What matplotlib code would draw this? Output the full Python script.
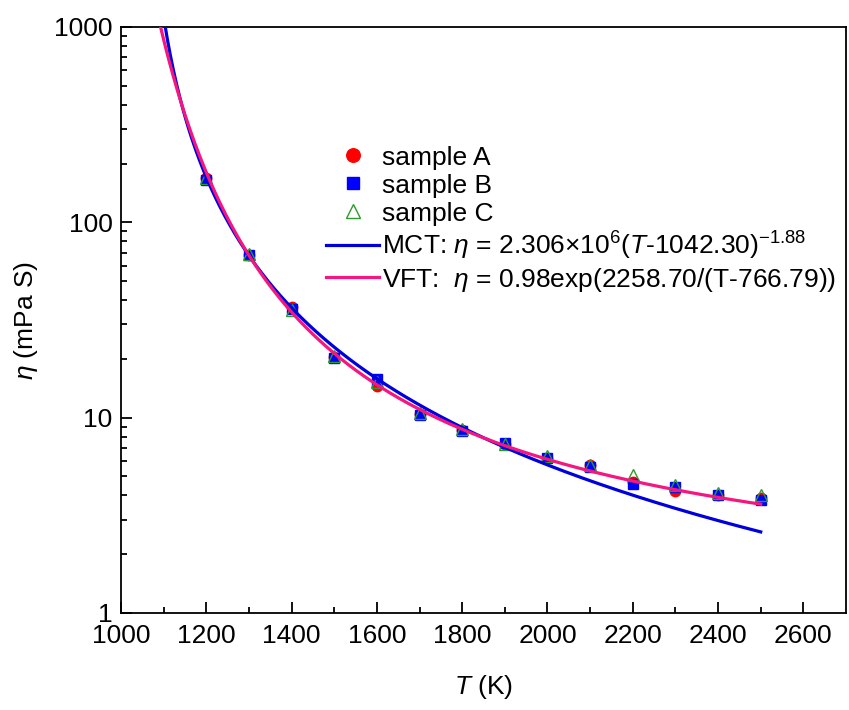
import numpy as np
import matplotlib
matplotlib.use('Agg')
import matplotlib.pyplot as plt
from matplotlib.ticker import FixedLocator, NullFormatter, LogLocator

plt.rcParams['font.family'] = ['Liberation Sans', 'DejaVu Sans']
plt.rcParams['mathtext.fontset'] = 'custom'
plt.rcParams['mathtext.rm'] = 'Liberation Sans'
plt.rcParams['mathtext.it'] = 'Liberation Sans:italic'

# measured temperatures (K)
temps = [1200, 1300, 1400, 1500, 1600, 1700, 1800, 1900, 2000, 2100, 2200, 2300, 2400, 2500]

# viscosities (mPa S)
sample_a = [168, 68, 37, 20.5, 14.5, 10.4, 8.6, 7.3, 6.2, 5.7, 4.7, 4.2, 4.0, 3.9]
sample_b = [165, 68, 36, 20.3, 15.8, 10.3, 8.5, 7.4, 6.2, 5.6, 4.6, 4.4, 4.0, 3.8]
sample_c = [168, 69, 35.5, 20.8, 15.2, 10.6, 8.8, 7.3, 6.4, 5.7, 5.1, 4.5, 4.1, 4.0]

# fit parameters from the legend
mct_a, mct_t0, mct_g = 2.306e6, 1042.30, 1.88
vft_a, vft_b, vft_t0 = 0.98, 2258.70, 766.79

fig = plt.figure(figsize=(8.49, 7.10), dpi=100)
ax = fig.add_axes([121 / 849, 97 / 710, 725 / 849, 586 / 710])

ax.plot(temps, sample_a, 'o', color='#FF0000', markersize=7.5, label='sample A', zorder=2)
ax.plot(temps, sample_b, 's', color='#0000FF', markersize=6.5, label='sample B', zorder=2)
ax.plot(temps, sample_c, '^', color='#2E9A2E', markersize=8, fillstyle='none',
        markeredgewidth=1.0, label='sample C', zorder=2)

t = np.linspace(1085, 2500, 600)
eta_mct = mct_a * (t - mct_t0) ** (-mct_g)
eta_vft = vft_a * np.exp(vft_b / (t - vft_t0))
ax.plot(t, eta_mct, color='#0000DD', lw=2.3, zorder=3,
        label=r'MCT: $\eta$ = 2.306$\times$10$^{6}$($T$-1042.30)$^{-1.88}$')
ax.plot(t, eta_vft, color='#F5167F', lw=2.3, zorder=4,
        label=r'VFT:  $\eta$ = 0.98exp(2258.70/(T-766.79))')

ax.set_yscale('log')
ax.set_xlim(1000, 2700)
ax.set_ylim(1, 1000)

ax.xaxis.set_major_locator(FixedLocator(np.arange(1000, 2601, 200)))
ax.xaxis.set_minor_locator(FixedLocator(np.arange(1100, 2700, 200)))
ax.yaxis.set_major_locator(FixedLocator([1, 10, 100, 1000]))
ax.yaxis.set_minor_locator(LogLocator(base=10, subs=np.arange(2, 10)))
ax.yaxis.set_minor_formatter(NullFormatter())
ax.set_yticklabels(['1', '10', '100', '1000'])

ax.tick_params(which='both', direction='in', top=False, right=False, labelsize=19, width=1.3)
ax.tick_params(axis='x', which='major', length=8, pad=8)
ax.tick_params(axis='y', which='major', length=8, pad=6)
ax.tick_params(which='minor', length=4)
for s in ax.spines.values():
    s.set_linewidth(1.3)

ax.set_xlabel(r'$T$ (K)', fontsize=19, labelpad=18)
ax.set_ylabel(r'$\eta$ (mPa S)', fontsize=19, labelpad=10)

ax.legend(loc='upper left', bbox_to_anchor=(0.265, 0.82), frameon=False, fontsize=19,
          handlelength=2.0, handletextpad=0.1, labelspacing=0.15, borderpad=0,
          markerscale=1.3)

fig.savefig('out.png', dpi=100)
